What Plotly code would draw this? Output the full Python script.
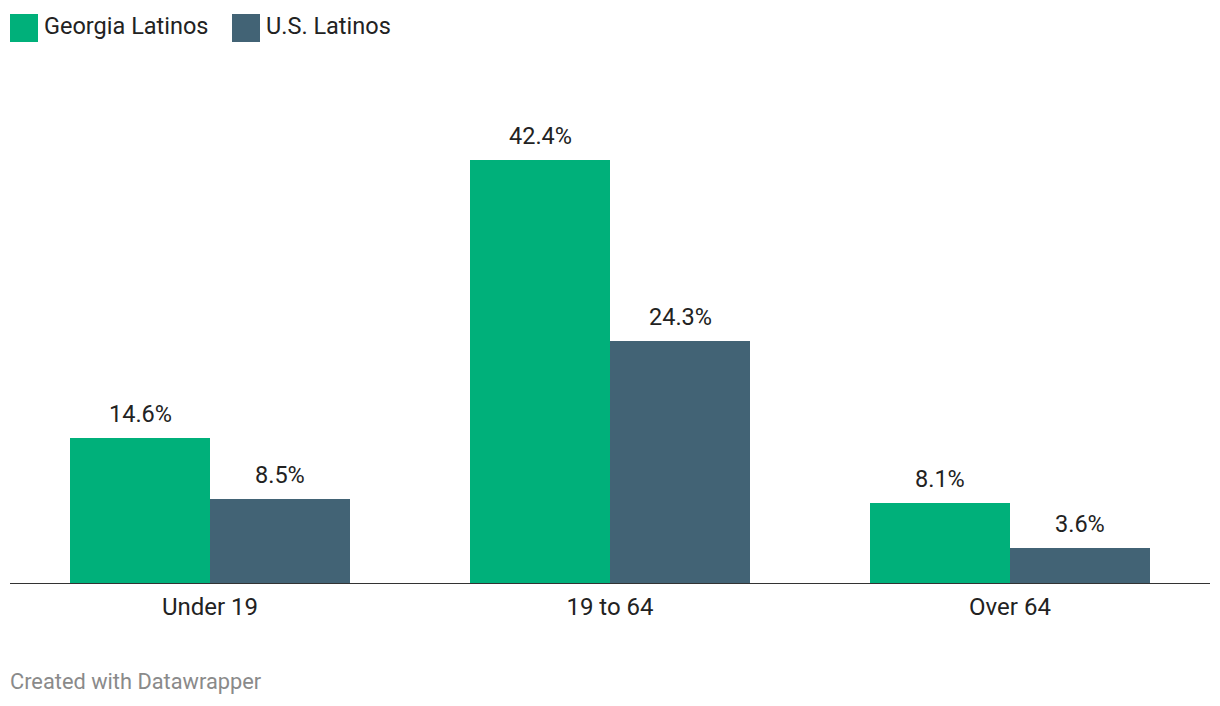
import plotly.graph_objects as go

categories = ["Under 19", "19 to 64", "Over 64"]
series_names = ["Georgia Latinos", "U.S. Latinos"]
georgia = [14.6, 42.4, 8.1]
us = [8.5, 24.3, 3.6]
colors = ["#00b07a", "#426375"]

FONT = "Roboto"
W, H = 1220, 706
ML, MR, MT, MB = 10, 10, 84, 122
PW = W - ML - MR
PH = H - MT - MB

xs = list(range(len(categories)))
fig = go.Figure()
for name, vals, col in zip(series_names, [georgia, us], colors):
    fig.add_trace(go.Bar(x=xs, y=vals, name=name, marker=dict(color=col, line=dict(width=0)),
                         showlegend=False, hoverinfo="skip"))

offsets = [-0.175, 0.175]
for vals, off in zip([georgia, us], offsets):
    for i, v in enumerate(vals):
        fig.add_annotation(x=i + off, y=v, xref="x", yref="y", text=f"{v:.1f}%",
                           showarrow=False, yanchor="middle", yshift=24,
                           font=dict(family=FONT, size=23.5, color="#222222"))

# legend drawn as shapes + text
leg_x = [10, 232]
for lx, name, col in zip(leg_x, series_names, colors):
    fig.add_shape(type="rect", xref="paper", yref="paper",
                  x0=(lx - ML) / PW, x1=(lx + 28 - ML) / PW,
                  y0=(MT + PH - 42) / PH, y1=(MT + PH - 14) / PH,
                  fillcolor=col, line=dict(width=0))
    fig.add_annotation(xref="paper", yref="paper", x=(lx + 32 - ML) / PW, y=(MT + PH - 26) / PH,
                       text=name, showarrow=False, xanchor="left", yanchor="middle",
                       font=dict(family=FONT, size=23.5, color="#222222"))

fig.add_annotation(xref="paper", yref="paper", x=-2 / PW, y=(MT + PH - 681) / PH,
                   text="Created with Datawrapper", showarrow=False, xanchor="left", yanchor="middle",
                   font=dict(family=FONT, size=21.8, color="#8a8a8a"))

fig.update_layout(
    width=W, height=H, margin=dict(l=ML, r=MR, t=MT, b=MB),
    barmode="group", bargap=0.3, bargroupgap=0,
    plot_bgcolor="white", paper_bgcolor="white",
    font=dict(family=FONT, color="#222222"),
    xaxis=dict(range=[-0.5, 2.5], tickvals=xs, ticktext=categories, showgrid=False, zeroline=False,
               showline=False, ticks="", ticklabelstandoff=6,
               tickfont=dict(family=FONT, size=24, color="#222222"), fixedrange=True),
    yaxis=dict(range=[0, 50], visible=False, showgrid=False, zeroline=False, fixedrange=True),
)
fig.add_shape(type="line", xref="paper", yref="y", x0=0, x1=1, y0=0, y1=0,
              line=dict(color="#333333", width=2))

fig.write_html("out.html")
